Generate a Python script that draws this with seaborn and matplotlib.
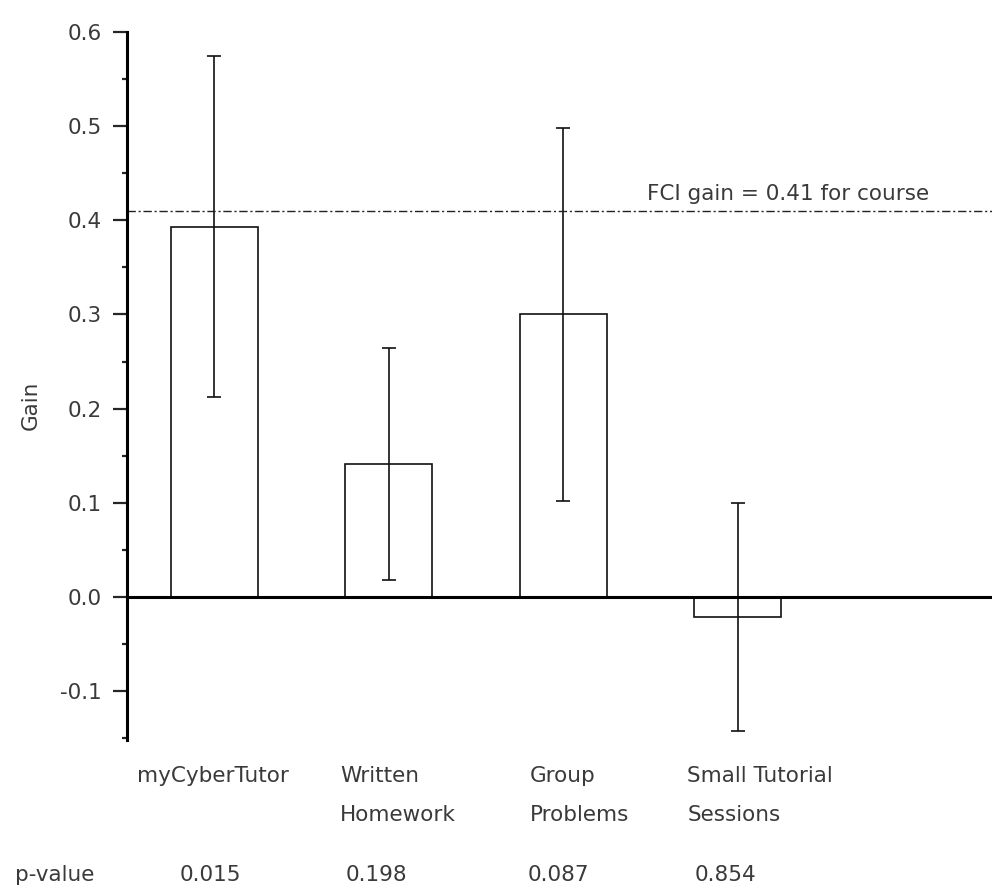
import numpy as np
import pandas as pd
import matplotlib
matplotlib.use('Agg')
import matplotlib.pyplot as plt
import seaborn as sns

# values
categories = ['myCyberTutor', 'Written\nHomework', 'Group\nProblems', 'Small Tutorial\nSessions']
gain = [0.393, 0.141, 0.300, -0.021]
gain_err = [0.181, 0.123, 0.198, 0.121]
p_values = ['0.015', '0.198', '0.087', '0.854']
fci_course = 0.41

# left offset of each category label relative to bar centre (category units)
label_dx = [-0.44, -0.28, -0.19, -0.29]
pval_dx = [-0.02, -0.07, -0.03, -0.07]

sns.set_theme(style='white')
plt.rcParams['font.family'] = ['DejaVu Sans']
txt_col = '#3a3a3a'
fs = 15.5

df = pd.DataFrame({'cat': categories, 'gain': gain})

fig = plt.figure(figsize=(9.92, 8.88), dpi=100)
ax = fig.add_axes([127/992, 1 - 740/888, 1 - 127/992, (740 - 32)/888])

sns.barplot(data=df, x='cat', y='gain', ax=ax, width=0.5,
            color='white', edgecolor='#111111', linewidth=1.2, errorbar=None)
ax.errorbar(np.arange(len(gain)), gain, yerr=gain_err, fmt='none',
            ecolor='#111111', elinewidth=1.2, capsize=4.8, capthick=1.2)

# zero line and course FCI reference line
ax.axhline(0, color='black', lw=2.2, zorder=5)
ax.axhline(fci_course, color='#222222', lw=1.0, ls=(0, (6, 2, 1.5, 2)))
ax.text(3.29, 0.428, f'FCI gain = {fci_course} for course',
        fontsize=fs, color=txt_col, ha='center', va='center')

ax.set_xlim(-0.5, 4.457)
ax.set_ylim(-0.152, 0.6)
ax.set_yticks(np.arange(-0.1, 0.61, 0.1))
ax.set_yticklabels([f'{v:.1f}' for v in np.arange(-0.1, 0.61, 0.1)])
ax.set_yticks(np.arange(-0.15, 0.6, 0.05), minor=True)
ax.tick_params(axis='y', which='major', direction='out', length=10, width=1.6,
               labelsize=fs, labelcolor=txt_col, pad=8, left=True)
ax.tick_params(axis='y', which='minor', direction='out', length=3.5, width=1.6, left=True)
ax.set_xticks([])
ax.set_xlabel('')
ax.set_ylabel('Gain', fontsize=fs, color=txt_col)
ax.yaxis.set_label_coords(-0.1, 0.473)

for s in ['top', 'right', 'bottom']:
    ax.spines[s].set_visible(False)
ax.spines['left'].set_linewidth(2.2)
ax.spines['left'].set_color('black')

# category labels and p-values below the axis
for i, (lab, p) in enumerate(zip(categories, p_values)):
    for j, line in enumerate(lab.split('\n')):
        ax.text(i + label_dx[i], -0.190 - 0.042 * j, line, fontsize=fs, color=txt_col,
                ha='left', va='center', clip_on=False)
    ax.text(i + pval_dx[i], -0.295, p, fontsize=fs, color=txt_col,
            ha='center', va='center', clip_on=False)
ax.text(-1.143, -0.295, 'p-value', fontsize=fs, color=txt_col,
        ha='left', va='center', clip_on=False)

fig.savefig('out.png', dpi=100)
